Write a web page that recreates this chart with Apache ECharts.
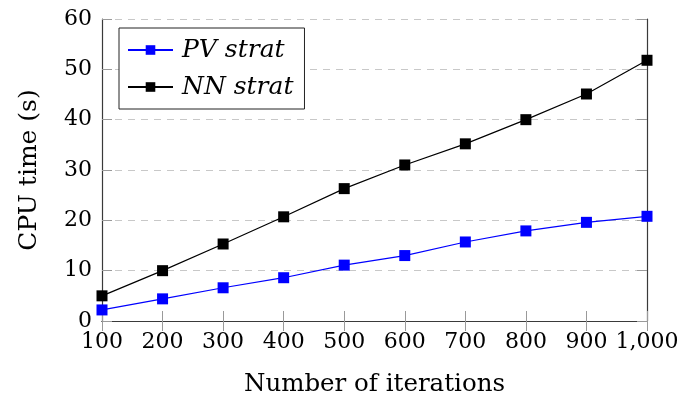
<!DOCTYPE html>
<html>
<head>
<meta charset="utf-8">
<script src="https://cdn.jsdelivr.net/npm/echarts@6/dist/echarts.min.js"></script>
<style>html,body{margin:0;padding:0;background:#fff;}#c{width:680px;height:400px;}</style>
</head>
<body>
<div id="c"></div>
<script>
const iterations = [100, 200, 300, 400, 500, 600, 700, 800, 900, 1000];
const pvStrat = [2.2, 4.4, 6.6, 8.6, 11.1, 13.0, 15.7, 17.9, 19.6, 20.8];
const nnStrat = [5.0, 10.0, 15.3, 20.7, 26.3, 31.0, 35.2, 40.0, 45.1, 51.8];
const seriesNames = ['PV strat', 'NN strat'];
const xTitle = 'Number of iterations';
const yTitle = 'CPU time (s)';

const FONT = 'DejaVu Serif';
const frame = '#3a3a3a';
const tickCol = '#9a9a9a';
const chart = echarts.init(document.getElementById('c'));

function pairs(xs, ys) { return xs.map((x, i) => [x, ys[i]]); }

chart.setOption({
  animation: false,
  backgroundColor: '#fff',
  textStyle: { fontFamily: FONT },
  grid: { left: 102, right: 33, top: 19, bottom: 79, containLabel: false, outerBoundsMode: 'none' },
  legend: {
    orient: 'vertical',
    left: 119, top: 28,
    padding: [7, 11, 7, 8],
    itemGap: 7,
    itemWidth: 45, itemHeight: 12,
    borderColor: '#222', borderWidth: 1,
    borderRadius: 0,
    backgroundColor: '#fff',
    textStyle: { fontFamily: FONT, fontSize: 25, fontStyle: 'italic', color: '#000', lineHeight: 30, padding: [0, 0, 0, 4] },
    data: seriesNames
  },
  xAxis: [{
    type: 'value', min: 100, max: 1000, interval: 100,
    name: xTitle, nameLocation: 'middle', nameGap: 51,
    nameTextStyle: { fontFamily: FONT, fontSize: 24.5, color: '#000' },
    axisLine: { show: true, lineStyle: { color: frame, width: 1.2 } },
    axisTick: { show: true, inside: true, length: 10, lineStyle: { color: tickCol } },
    axisLabel: { fontFamily: FONT, fontSize: 22, color: '#000', margin: 10,
      formatter: v => v >= 1000 ? v.toLocaleString('en-US') : String(v) },
    splitLine: { show: false }
  }, {
    type: 'value', min: 100, max: 1000, interval: 100, position: 'top',
    axisLine: { show: true, lineStyle: { color: frame, width: 1.2 } },
    axisTick: { show: true, inside: true, length: 10, lineStyle: { color: tickCol } },
    axisLabel: { show: false }, splitLine: { show: false }
  }],
  yAxis: [{
    type: 'value', min: 0, max: 60, interval: 10,
    name: yTitle, nameLocation: 'middle', nameGap: 60, nameRotate: 90,
    nameTextStyle: { fontFamily: FONT, fontSize: 25, color: '#000' },
    axisLine: { show: true, lineStyle: { color: frame, width: 1.2 } },
    axisTick: { show: true, inside: true, length: 10, lineStyle: { color: tickCol } },
    axisLabel: { fontFamily: FONT, fontSize: 22, color: '#000', margin: 10 },
    splitLine: { show: true, lineStyle: { color: '#c8c8c8', type: [7, 6], width: 1 } }
  }, {
    type: 'value', min: 0, max: 60, interval: 10, position: 'right',
    axisLine: { show: true, lineStyle: { color: frame, width: 1.2 } },
    axisTick: { show: true, inside: true, length: 10, lineStyle: { color: tickCol } },
    axisLabel: { show: false }, splitLine: { show: false }
  }],
  series: [{
    name: seriesNames[0], type: 'line', data: pairs(iterations, pvStrat),
    symbol: 'rect', symbolSize: 11,
    lineStyle: { color: '#0000ff', width: 1.2 },
    itemStyle: { color: '#0000ff' }, z: 3
  }, {
    name: seriesNames[1], type: 'line', data: pairs(iterations, nnStrat),
    symbol: 'rect', symbolSize: 11,
    lineStyle: { color: '#000', width: 1.2 },
    itemStyle: { color: '#000' }, z: 3
  }]
});
</script>
</body>
</html>
